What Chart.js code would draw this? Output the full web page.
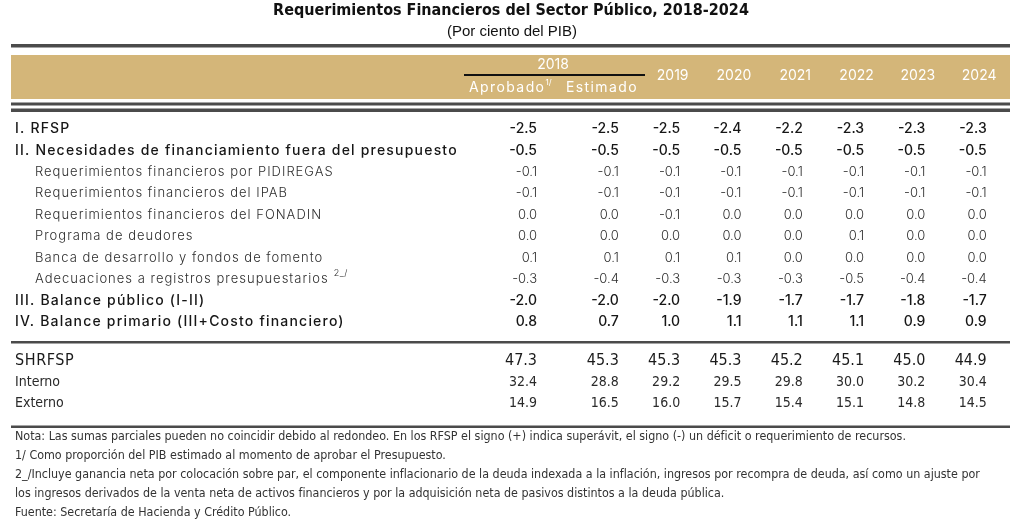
<!DOCTYPE html>
<html lang="es">
<head>
<meta charset="utf-8">
<title>Requerimientos Financieros del Sector Público, 2018-2024</title>
<script src="https://cdn.jsdelivr.net/npm/chart.js@4.4.1/dist/chart.umd.min.js"></script>
<style>
  html, body { margin: 0; padding: 0; background: #fff; }
  #wrap { position: relative; width: 1024px; height: 532px; }
</style>
</head>
<body>
<div id="wrap"><canvas id="tabla"></canvas></div>
<script>
// ---- data ----
const columns = ['Aprobado', 'Estimado', '2019', '2020', '2021', '2022', '2023', '2024'];

const rfsp            = [-2.5, -2.5, -2.5, -2.4, -2.2, -2.3, -2.3, -2.3];
const necesidades     = [-0.5, -0.5, -0.5, -0.5, -0.5, -0.5, -0.5, -0.5];
const pidiregas       = [-0.1, -0.1, -0.1, -0.1, -0.1, -0.1, -0.1, -0.1];
const ipab            = [-0.1, -0.1, -0.1, -0.1, -0.1, -0.1, -0.1, -0.1];
const fonadin         = [0.0, 0.0, -0.1, 0.0, 0.0, 0.0, 0.0, 0.0];
const deudores        = [0.0, 0.0, 0.0, 0.0, 0.0, 0.1, 0.0, 0.0];
const banca           = [0.1, 0.1, 0.1, 0.1, 0.0, 0.0, 0.0, 0.0];
const adecuaciones    = [-0.3, -0.4, -0.3, -0.3, -0.3, -0.5, -0.4, -0.4];
const balancePublico  = [-2.0, -2.0, -2.0, -1.9, -1.7, -1.7, -1.8, -1.7];
const balancePrimario = [0.8, 0.7, 1.0, 1.1, 1.1, 1.1, 0.9, 0.9];

const shrfsp  = [47.3, 45.3, 45.3, 45.3, 45.2, 45.1, 45.0, 44.9];
const interno = [32.4, 28.8, 29.2, 29.5, 29.8, 30.0, 30.2, 30.4];
const externo = [14.9, 16.5, 16.0, 15.7, 15.4, 15.1, 14.8, 14.5];

const rows = [
  { label: 'I. RFSP', values: rfsp, kind: 'strong' },
  { label: 'II. Necesidades de financiamiento fuera del presupuesto', values: necesidades, kind: 'strong' },
  { label: 'Requerimientos financieros por PIDIREGAS', values: pidiregas, kind: 'sub' },
  { label: 'Requerimientos financieros del IPAB', values: ipab, kind: 'sub' },
  { label: 'Requerimientos financieros del FONADIN', values: fonadin, kind: 'sub' },
  { label: 'Programa de deudores', values: deudores, kind: 'sub' },
  { label: 'Banca de desarrollo y fondos de fomento', values: banca, kind: 'sub' },
  { label: 'Adecuaciones a registros presupuestarios', values: adecuaciones, kind: 'sub', note: '2_/' },
  { label: 'III. Balance público (I-II)', values: balancePublico, kind: 'strong' },
  { label: 'IV. Balance primario (III+Costo financiero)', values: balancePrimario, kind: 'strong' },
  { label: 'SHRFSP', values: shrfsp, kind: 'shrTotal' },
  { label: 'Interno', values: interno, kind: 'shr' },
  { label: 'Externo', values: externo, kind: 'shr' }
];

const titulo = 'Requerimientos Financieros del Sector Público, 2018-2024';
const subtitulo = '(Por ciento del PIB)';
const notas = [
  'Nota: Las sumas parciales pueden no coincidir debido al redondeo. En los RFSP el signo (+) indica superávit, el signo (-) un déficit o requerimiento de recursos.',
  '1/ Como proporción del PIB estimado al momento de aprobar el Presupuesto.',
  '2_/Incluye ganancia neta por colocación sobre par, el componente inflacionario de la deuda indexada a la inflación, ingresos por recompra de deuda, así como un ajuste por',
  'los ingresos derivados de la venta neta de activos financieros y por la adquisición neta de pasivos distintos a la deuda pública.',
  'Fuente: Secretaría de Hacienda y Crédito Público.'
];

// ---- layout ----
const COL_GAP = 0.335;   // extra room between Aprobado and Estimado
const BLOCK_GAP = 0.82;  // extra room before SHRFSP block
const colX = i => i + (i > 0 ? COL_GAP : 0);
const rowY = r => r + (r >= 10 ? BLOCK_GAP : 0);

const BAND = '#d4b679';
const RULE = '#4b4b4b';
const MAIN_FONT = 'Inter, "Open Sans", sans-serif';
const NARROW_FONT = '"Liberation Sans Narrow", "DejaVu Sans Condensed", "Liberation Sans", sans-serif';

const styles = {
  strong:   { font: '500 14px ' + MAIN_FONT, color: '#161616', indent: 15, spacing: '1.2px' },
  sub:      { font: '300 13px ' + MAIN_FONT, color: '#2e2e2e', indent: 35, spacing: '1px' },
  shrTotal: { font: '16px ' + NARROW_FONT, color: '#1b1b1b', indent: 15, spacing: '0.6px' },
  shr:      { font: '14px ' + NARROW_FONT, color: '#2a2a2a', indent: 15, spacing: '0px' }
};

const datasets = rows.map((row, r) => ({
  label: row.label,
  kind: row.kind,
  note: row.note,
  data: row.values.map((v, i) => ({ x: colX(i), y: rowY(r), v: v })),
  pointRadius: 0,
  showLine: false
}));

const tablePlugin = {
  id: 'tablePlugin',
  beforeDraw(chart) {
    const ctx = chart.ctx;
    ctx.save();
    ctx.fillStyle = '#fff';
    ctx.fillRect(0, 0, chart.width, chart.height);
    ctx.fillStyle = BAND;
    ctx.fillRect(11, 55, 999, 44);
    ctx.fillStyle = RULE;
    ctx.fillRect(11, 44, 999, 3.5);
    ctx.fillRect(11, 102.5, 999, 3);
    ctx.fillRect(11, 108.5, 999, 3.5);
    ctx.fillRect(11, 341, 999, 2.5);
    ctx.fillRect(11, 425.5, 999, 2.5);
    ctx.restore();
  },
  afterDatasetsDraw(chart) {
    const ctx = chart.ctx;
    const xs = chart.scales.x;
    ctx.save();
    ctx.textBaseline = 'middle';

    // title
    ctx.fillStyle = '#111';
    ctx.textAlign = 'center';
    ctx.font = 'bold 16px ' + NARROW_FONT;
    ctx.fillText(titulo, 511, 11, 484);
    ctx.font = '15px "Liberation Sans", Arial, sans-serif';
    ctx.fillText(subtitulo, 512, 32, 138);

    // header
    ctx.fillStyle = '#fff';
    ctx.font = '400 14px ' + MAIN_FONT;
    ctx.fillText('2018', 553, 65);
    for (let i = 2; i < columns.length; i++) {
      ctx.fillText(columns[i], xs.getPixelForValue(colX(i)) - 7.5, 76);
    }
    ctx.letterSpacing = '1.4px';
    ctx.textAlign = 'left';
    ctx.fillText(columns[0], 469, 88);
    const aw = ctx.measureText(columns[0]).width;
    ctx.textAlign = 'right';
    ctx.fillText(columns[1], 638, 88);
    ctx.letterSpacing = '0px';
    ctx.textAlign = 'left';
    ctx.font = '400 8px ' + MAIN_FONT;
    ctx.fillText('1/', 469 + aw, 83);
    ctx.fillStyle = '#111';
    ctx.fillRect(464, 74, 181, 2);

    // rows
    chart.data.datasets.forEach((ds, di) => {
      const meta = chart.getDatasetMeta(di);
      const st = styles[ds.kind];
      ctx.font = st.font;
      ctx.fillStyle = st.color;
      ctx.letterSpacing = '0px';
      ctx.textAlign = 'right';
      meta.data.forEach((pt, i) => {
        ctx.fillText(ds.data[i].v.toFixed(1), pt.x, pt.y);
      });
      const y = meta.data[0].y;
      ctx.textAlign = 'left';
      ctx.letterSpacing = st.spacing;
      ctx.fillText(ds.label, st.indent, y);
      if (ds.note) {
        const w = ctx.measureText(ds.label).width;
        ctx.letterSpacing = '0.5px';
        ctx.font = '300 9px ' + MAIN_FONT;
        ctx.fillText(ds.note, st.indent + w + 5, y - 6);
      }
    });
    ctx.letterSpacing = '0px';

    // notes
    ctx.font = '12.4px ' + NARROW_FONT;
    ctx.fillStyle = '#333';
    ctx.textAlign = 'left';
    notas.forEach((t, k) => ctx.fillText(t, 15, 437 + k * 19, 984));
    ctx.restore();
  }
};

new Chart(document.getElementById('tabla'), {
  type: 'scatter',
  data: { datasets: datasets },
  options: {
    responsive: true,
    maintainAspectRatio: false,
    animation: false,
    events: [],
    layout: { padding: 0 },
    plugins: { legend: { display: false }, tooltip: { enabled: false }, title: { display: false } },
    scales: {
      x: { type: 'linear', display: false, min: -8.76, max: 7.944 },
      y: { type: 'linear', display: false, reverse: true, min: -6.017, max: 18.797 }
    }
  },
  plugins: [tablePlugin]
});
</script>
</body>
</html>
